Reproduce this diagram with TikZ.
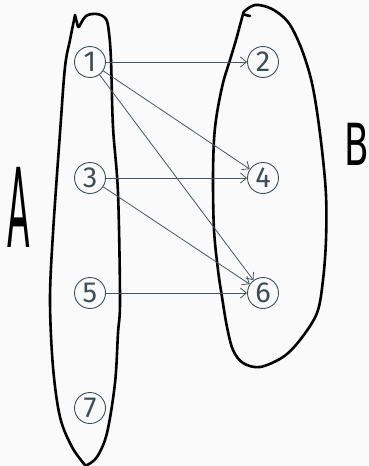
\documentclass[tikz,border=0pt]{standalone}
\usepackage{fontspec}
\setmainfont{Fira Sans}
\newfontfamily\handfont{DejaVu Sans}
\usetikzlibrary{arrows.meta}
\definecolor{nodeink}{HTML}{3E4E57}
\definecolor{edgeink}{HTML}{46565F}
\definecolor{paper}{HTML}{FAFAFA}
\tikzset{
  elem/.style={circle, draw=nodeink, line width=0.9pt, minimum size=31pt, inner sep=0pt,
    text=nodeink, font=\fontsize{29}{30}\selectfont},
  link/.style={draw=edgeink, line width=0.8pt, -{Straight Barb[length=6pt,width=10pt]}},
  blob/.style={draw=black, line width=2.6pt, line cap=round, line join=round},
  hand/.style={text=black, inner sep=0pt, anchor=center}
}
\begin{document}
\begin{tikzpicture}[x=1pt,y=-1pt]
\fill[paper] (0,0) rectangle (369,466);
\useasboundingbox (0,0) rectangle (369,466);
\begin{scope}
\clip (0,0) rectangle (369,466);
% set A
\draw[blob] plot[smooth, tension=0.55] coordinates {
  (85,465) (72,447) (60,417) (53,367) (50,300) (53,233) (60,133) (65,67) (70,40) (75,15)}
  -- (78,27);
\draw[blob] plot[smooth, tension=0.55] coordinates {
  (79,27) (86,16) (97,14) (106,19) (109,33) (111,60) (113,127) (118,193) (120,300) (118,333)
  (115,383) (107,433) (97,457) (87,465)};
% set B
\draw[blob] plot[smooth, tension=0.55] coordinates {
  (250,16) (243,13) (255,5) (272,9) (288,22) (300,45) (310,75) (316,105) (322,150) (326,195)
  (326,240) (323,280) (317,313) (300,340) (283,357) (260,367) (243,363) (233,350) (227,327)
  (222,297) (218,270) (214,230) (213,180) (214,140) (217,113) (223,83) (230,60) (236,40) (243,14)};
\end{scope}
\node[hand, font=\handfont\fontsize{110}{120}\selectfont, xscale=0.3] (labelA) at (19,207) {A};
\node[hand, font=\handfont\fontsize{58}{66}\selectfont, xscale=0.62] (labelB) at (357,144) {B};
% elements
\node[elem] (n1) at (90,62) {1};
\node[elem] (n2) at (263,62) {2};
\node[elem] (n3) at (90,178) {3};
\node[elem] (n4) at (263,178) {4};
\node[elem] (n5) at (90,293) {5};
\node[elem] (n6) at (263,293) {6};
\node[elem] (n7) at (90,408) {7};
% mapping
\draw[link] (n1) -- (n2);
\draw[link] (n1) -- (n4);
\draw[link] (n1) -- (n6);
\draw[link] (n3) -- (n4);
\draw[link] (n3) -- (n6);
\draw[link] (n5) -- (n6);
\end{tikzpicture}
\end{document}
